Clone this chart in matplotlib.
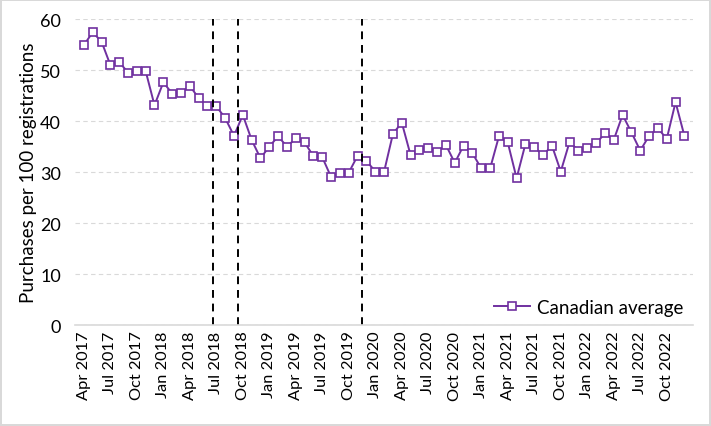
import matplotlib
matplotlib.use("Agg")
import matplotlib.pyplot as plt
import numpy as np

plt.rcParams['font.family'] = ['Lato', 'DejaVu Sans']

# monthly values, Apr 2017 - Dec 2022
months = ['Jan', 'Feb', 'Mar', 'Apr', 'May', 'Jun',
          'Jul', 'Aug', 'Sep', 'Oct', 'Nov', 'Dec']
periods = [(y, m) for y in range(2017, 2023) for m in range(12)
           if not (y == 2017 and m < 3)]
labels = [f"{months[m]} {y}" for y, m in periods]

canadian_avg = [
    54.9, 57.4, 55.6, 51.0, 51.6, 49.5, 49.8, 49.8, 43.1,            # 2017
    47.6, 45.4, 45.5, 46.9, 44.5, 42.9, 42.9, 40.6, 37.1, 41.2, 36.3, 32.7,  # 2018
    35.0, 37.0, 35.0, 36.6, 35.8, 33.1, 32.9, 29.0, 29.9, 29.9, 33.2, 32.2,  # 2019
    30.1, 30.1, 37.5, 39.7, 33.3, 34.4, 34.8, 34.0, 35.3, 31.8, 35.2, 33.7,  # 2020
    30.7, 30.7, 37.0, 35.8, 28.8, 35.5, 34.9, 33.3, 35.2, 30.1, 35.9, 34.2,  # 2021
    34.7, 35.6, 37.6, 36.3, 41.2, 37.8, 34.2, 37.1, 38.6, 36.5, 43.7, 37.1,  # 2022
]

# event markers (position in months from Apr 2017)
event_pos = [14.64, 17.4, 31.5]

x = np.arange(len(canadian_avg))

fig = plt.figure(figsize=(7.11, 4.27), dpi=100)
fig.patch.set_edgecolor('#d9d9d9')
fig.patch.set_linewidth(1.5)
ax = fig.add_axes([0.1055, 0.2365, 0.8695, 0.7165])

ax.plot(x, canadian_avg, color='#7030A0', lw=1.4, marker='s', ms=5.5,
        mfc='white', mec='#7030A0', mew=1.2, label='Canadian average')

for p in event_pos:
    ax.axvline(p, color='black', ls=(0, (4, 3)), lw=1.4)

ax.set_xlim(-1, len(canadian_avg))
ax.set_ylim(0, 60)
ax.set_yticks(range(0, 61, 10))
ax.set_xticks(x[::3])
ax.set_xticklabels(labels[::3], rotation=90, fontsize=11.8)
ax.tick_params(axis='y', labelsize=13, length=0, pad=10)
ax.tick_params(axis='x', length=0, pad=4)

ax.grid(axis='y', color='#d9d9d9', ls=(0, (4, 3)), lw=0.8)
ax.set_axisbelow(True)
for s in ['top', 'right', 'left']:
    ax.spines[s].set_visible(False)
ax.spines['bottom'].set_color('#d9d9d9')
ax.spines['bottom'].set_linewidth(1.2)

ax.set_ylabel('Purchases per 100 registrations', fontsize=13.5, labelpad=2)
ax.legend(loc='lower right', frameon=False, fontsize=13.5, handlelength=1.9,
          handletextpad=0.4, borderaxespad=0.1)

plt.savefig('out.png', dpi=100, edgecolor=fig.get_edgecolor())
